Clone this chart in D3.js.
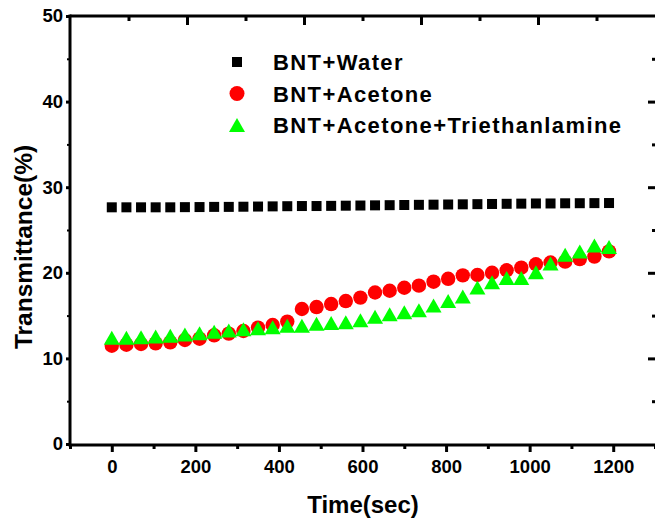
<!DOCTYPE html>
<html>
<head>
<meta charset="utf-8">
<script src="https://cdn.jsdelivr.net/npm/d3@7"></script>
<style>
  html, body { margin: 0; padding: 0; background: #fff; }
  svg { display: block; font-family: Arial, "Liberation Sans", sans-serif; font-weight: bold; }
</style>
</head>
<body>
<svg id="chart" width="655" height="522"></svg>
<script>
// Sampling times (s)
const times = [0, 35, 70, 105, 140, 175, 210, 245, 280, 315, 350, 385, 420, 455, 490, 525, 560, 595,
  630, 665, 700, 735, 770, 805, 840, 875, 910, 945, 980, 1015, 1050, 1085, 1120, 1155, 1190];

// Transmittance (%) for each suspension
const water = [27.65, 27.65, 27.65, 27.65, 27.65, 27.67, 27.68, 27.7, 27.7, 27.72,
  27.74, 27.76, 27.78, 27.8, 27.8, 27.82, 27.84, 27.86, 27.88, 27.9,
  27.92, 27.94, 27.96, 27.98, 28.0, 28.02, 28.04, 28.06, 28.08, 28.1,
  28.1, 28.12, 28.13, 28.14, 28.15];
const acetone = [11.48, 11.6, 11.68, 11.76, 11.88, 12.15, 12.3, 12.7, 12.9, 13.2,
  13.6, 13.9, 14.3, 15.77, 16.0, 16.35, 16.7, 17.1, 17.7, 17.9,
  18.25, 18.5, 18.96, 19.3, 19.7, 19.74, 20.0, 20.3, 20.6, 21.0,
  21.2, 21.3, 21.6, 21.9, 22.5];
const acetoneTea = [12.4, 12.4, 12.48, 12.56, 12.64, 12.79, 12.95, 13.1, 13.26, 13.4,
  13.53, 13.65, 13.8, 13.8, 14.04, 14.15, 14.23, 14.45, 14.87, 15.15,
  15.4, 15.62, 16.18, 16.7, 17.23, 18.27, 18.9, 19.4, 19.4, 20.07,
  21.1, 22.1, 22.5, 23.2, 23.0];

const seriesNames = ["BNT+Water", "BNT+Acetone", "BNT+Acetone+Triethanlamine"];
const xTicks = [0, 200, 400, 600, 800, 1000, 1200];
const xMinorTicks = [-100, 100, 300, 500, 700, 900, 1100, 1300];
const yTicks = [0, 10, 20, 30, 40, 50];
const yMinorTicks = [5, 15, 25, 35, 45];

const svg = d3.select("#chart");
const padL = 70, padR = 655, padT = 16, padB = 444;

const x = d3.scaleLinear().domain([-100, 1300]).range([padL, padR]);
const y = d3.scaleLinear().domain([0, 50]).range([padB, padT]);
// mirrored top axis: evenly divided into ten steps
const xTop = d3.scaleLinear().domain([0, 10]).range([padL, padR]);

const FONT = "Arial, 'Liberation Sans', sans-serif";

// ---- axes ----
function styleAxis(g, width) {
  g.select(".domain").remove();
  g.selectAll(".tick line").attr("stroke", "#000").attr("stroke-width", width);
}

// bottom: labelled majors, short minors, outward
svg.append("g").attr("transform", `translate(0,${padB + 1})`)
  .call(d3.axisBottom(x).tickValues(xTicks).tickSize(7).tickPadding(8).tickFormat(d3.format("d")))
  .call(g => styleAxis(g, 3))
  .call(g => g.selectAll("text").attr("font-size", 18.5).attr("font-family", FONT).attr("font-weight", "bold").attr("fill", "#000"));
svg.append("g").attr("transform", `translate(0,${padB + 1})`)
  .call(d3.axisBottom(x).tickValues(xMinorTicks).tickSize(4).tickFormat(""))
  .call(g => styleAxis(g, 3));

// left: labelled majors, outward
svg.append("g").attr("transform", `translate(${padL},0)`)
  .call(d3.axisLeft(y).tickValues(yTicks).tickSize(4).tickPadding(3).tickFormat(d3.format("d")))
  .call(g => styleAxis(g, 3))
  .call(g => g.selectAll("text").attr("font-size", 18.5).attr("font-family", FONT).attr("font-weight", "bold").attr("fill", "#000"));
svg.append("g").attr("transform", `translate(${padL},0)`)
  .call(d3.axisLeft(y).tickValues(yMinorTicks).tickSize(3).tickFormat(""))
  .call(g => styleAxis(g, 2));

// right: inward ticks, no labels
svg.append("g").attr("transform", `translate(${padR},0)`)
  .call(d3.axisLeft(y).tickValues(yTicks.slice(1, -1)).tickSize(7).tickFormat(""))
  .call(g => styleAxis(g, 3));
svg.append("g").attr("transform", `translate(${padR},0)`)
  .call(d3.axisLeft(y).tickValues(yMinorTicks).tickSize(3).tickFormat(""))
  .call(g => styleAxis(g, 3));

// top: inward ticks, alternating long/short
svg.append("g").attr("transform", `translate(0,${padT})`)
  .call(d3.axisBottom(xTop).tickValues([2, 4, 6, 8]).tickSize(9).tickFormat(""))
  .call(g => styleAxis(g, 3));
svg.append("g").attr("transform", `translate(0,${padT})`)
  .call(d3.axisBottom(xTop).tickValues([1, 3, 5, 7, 9]).tickSize(5).tickFormat(""))
  .call(g => styleAxis(g, 3));

// frame lines
svg.append("line").attr("x1", padL).attr("x2", padR).attr("y1", padT).attr("y2", padT)
  .attr("stroke", "#000").attr("stroke-width", 3);
svg.append("line").attr("x1", padL).attr("x2", padR).attr("y1", padB + 1).attr("y2", padB + 1)
  .attr("stroke", "#000").attr("stroke-width", 3);
svg.append("line").attr("x1", padL).attr("x2", padL).attr("y1", padT - 1.5).attr("y2", padB + 2.5)
  .attr("stroke", "#000").attr("stroke-width", 3);

// ---- axis titles ----
svg.append("text").attr("x", 363).attr("y", 513).attr("text-anchor", "middle")
  .attr("font-size", 24).attr("fill", "#000").text("Time(sec)");
svg.append("text").attr("transform", "translate(32,247) rotate(-90)").attr("text-anchor", "middle")
  .attr("font-size", 24.5).attr("fill", "#000").text("Transmittance(%)");

// ---- markers ----
const triPath = (w, h) => `M0,${-h / 2}L${w / 2},${h / 2}L${-w / 2},${h / 2}Z`;

const plot = svg.append("g");
plot.selectAll("rect.water").data(times.map((t, i) => [t, water[i]])).join("rect")
  .attr("class", "water")
  .attr("x", d => x(d[0]) - 5).attr("y", d => y(d[1]) - 5)
  .attr("width", 10).attr("height", 10).attr("fill", "#000");

plot.selectAll("circle.acetone").data(times.map((t, i) => [t, acetone[i]])).join("circle")
  .attr("class", "acetone")
  .attr("cx", d => x(d[0])).attr("cy", d => y(d[1])).attr("r", 7.2).attr("fill", "#ff0000");

plot.selectAll("path.tea").data(times.map((t, i) => [t, acetoneTea[i]])).join("path")
  .attr("class", "tea")
  .attr("transform", d => `translate(${x(d[0])},${y(d[1])})`)
  .attr("d", triPath(16, 14)).attr("fill", "#00ff00");

// ---- legend ----
const legend = svg.append("g");
const lx = 237, ly = [62, 93.5, 125];
legend.append("rect").attr("x", lx - 5).attr("y", ly[0] - 5).attr("width", 10).attr("height", 10).attr("fill", "#000");
legend.append("circle").attr("cx", lx).attr("cy", ly[1]).attr("r", 7.5).attr("fill", "#ff0000");
legend.append("path").attr("transform", `translate(${lx},${ly[2]})`).attr("d", triPath(16, 14)).attr("fill", "#00ff00");
legend.selectAll("text").data(seriesNames).join("text")
  .attr("x", 273).attr("y", (d, i) => ly[i] + 8)
  .attr("font-size", 22).attr("letter-spacing", 1.4).attr("fill", "#000")
  .text(d => d);
</script>
</body>
</html>
